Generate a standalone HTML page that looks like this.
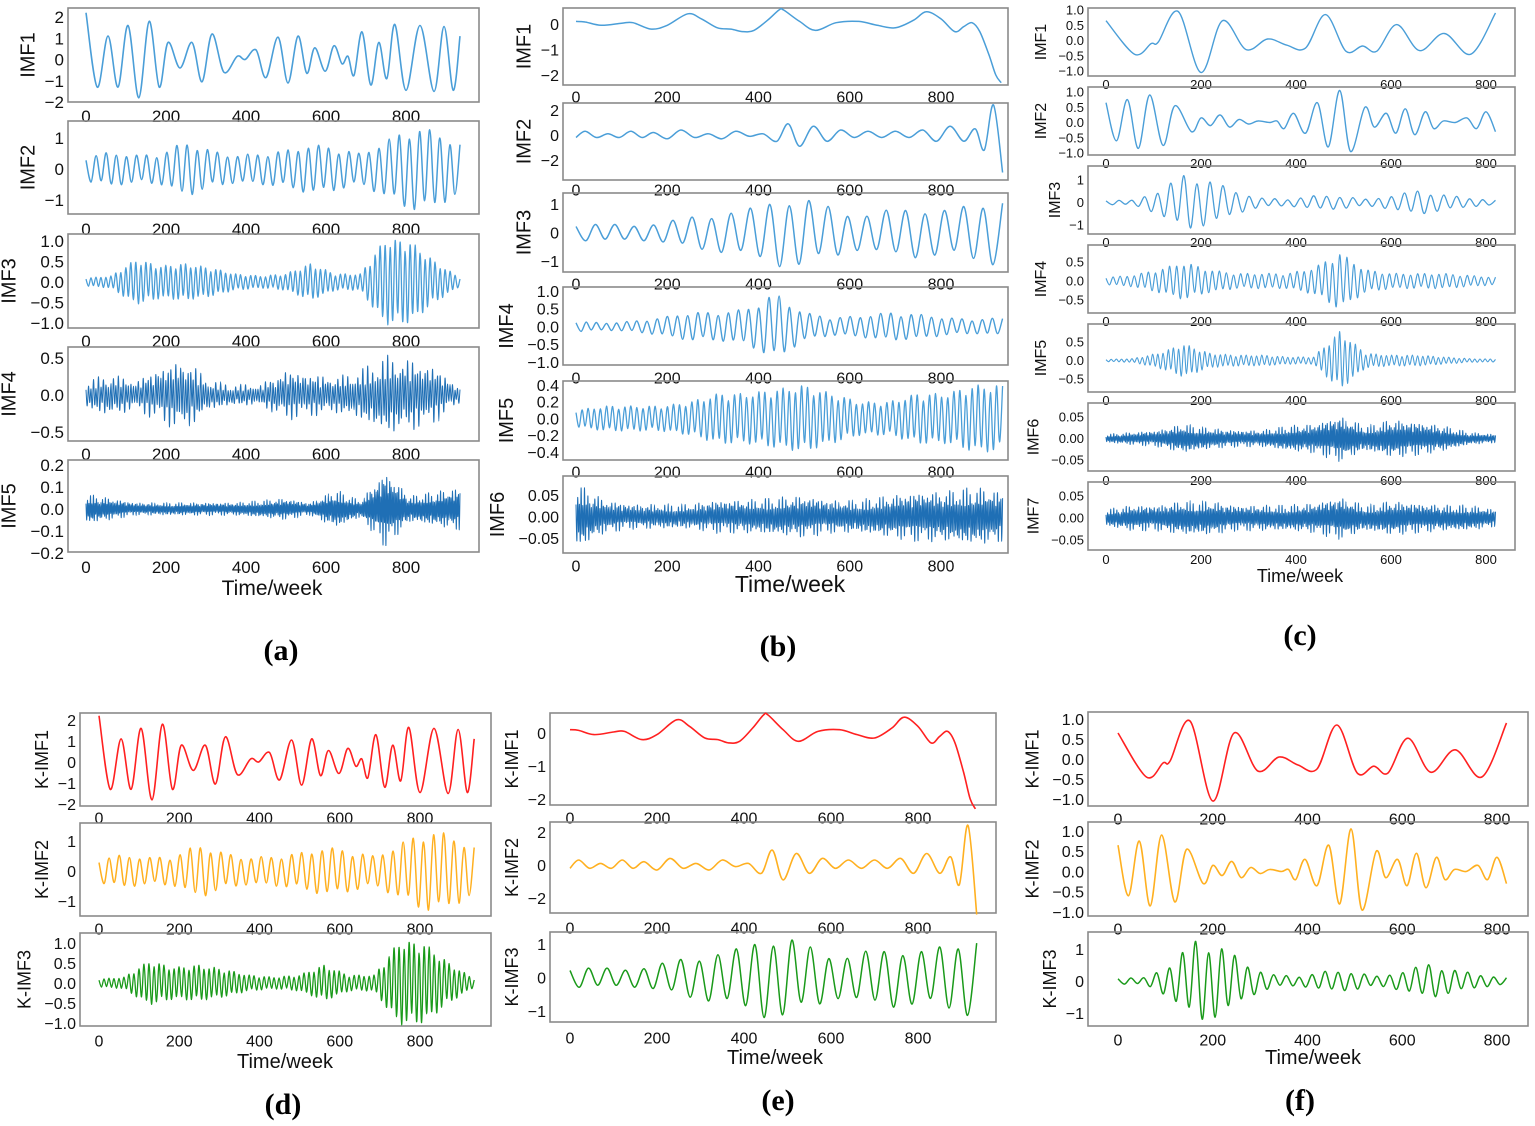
<!DOCTYPE html>
<html><head><meta charset="utf-8">
<style>
html,body{margin:0;padding:0;background:#fff;}
svg{display:block;font-family:"Liberation Sans",sans-serif;}
</style></head>
<body>
<svg id="fig" width="1535" height="1126" viewBox="0 0 1535 1126" xmlns="http://www.w3.org/2000/svg">
<rect width="1535" height="1126" fill="#fff"/>
<g font-family="Liberation Serif, serif" font-weight="bold" font-size="30" fill="#000" text-anchor="middle">
<text x="281" y="660">(a)</text>
<text x="778" y="656">(b)</text>
<text x="1300" y="645">(c)</text>
<text x="283" y="1114">(d)</text>
<text x="778" y="1110">(e)</text>
<text x="1300" y="1110">(f)</text>
</g>
</svg>
<script>
// ---------- data ----------
const xTicks = [0,200,400,600,800];
const aImf1T = [0,28,55,80,105,132,158,183,205,235,265,290,315,345,378,398,425,450,480,505,530,552,572,598,620,640,655,670,690,712,732,752,772,800,835,870,895,918,935];
const aImf1V = [2.2,-1.3,1.1,-1.3,1.6,-1.8,1.8,-1.3,0.8,-0.4,0.8,-1.05,1.2,-0.6,0.15,0.0,0.45,-0.85,1.05,-1.1,1.1,-0.65,0.55,-0.55,0.65,-0.2,0.15,-0.75,1.3,-1.2,0.8,-0.9,1.65,-1.45,1.6,-1.5,1.55,-1.45,1.1];
const bImf1T = [0,20,55,100,125,165,200,245,275,310,340,365,390,420,445,455,490,525,570,620,660,700,740,768,800,830,850,868,885,905,920,932];
const bImf1V = [0.1,0.08,-0.05,0.03,0.05,-0.2,-0.05,0.4,0.2,-0.15,-0.2,-0.3,-0.25,0.15,0.55,0.55,0.1,-0.25,0.05,0.1,-0.05,-0.15,0.15,0.48,0.2,-0.3,-0.1,0.05,-0.3,-1.2,-2.0,-2.3];
const bImf2T = [0,20,45,70,95,120,145,170,200,230,260,290,320,350,380,410,440,465,490,520,550,580,610,640,670,700,730,760,790,820,850,875,895,915,935];
const bImf2V = [-0.2,0.3,-0.2,0.1,-0.2,0.3,-0.2,0.2,-0.3,0.4,-0.2,0.1,-0.3,0.3,-0.1,0.1,-0.5,0.9,-0.9,0.7,-0.5,0.4,-0.2,0.3,-0.2,0.3,-0.2,0.4,-0.5,0.7,-0.5,0.5,-1.2,2.4,-3.0];
const cImf1T = [0,60,95,110,152,200,245,295,340,380,420,462,505,540,570,612,660,712,768,820];
const cImf1V = [0.65,-0.45,-0.1,-0.05,0.95,-1.05,0.65,-0.3,0.05,-0.15,-0.25,0.85,-0.35,-0.18,-0.35,0.52,-0.33,0.23,-0.45,0.9];
const cImf2T = [0,22,45,68,92,120,145,180,200,220,240,260,280,300,320,345,360,375,395,420,445,468,492,515,545,565,590,610,630,650,672,690,710,735,760,780,800,820];
const cImf2V = [0.65,-0.6,0.75,-0.85,0.9,-0.75,0.55,-0.3,0.15,-0.1,0.25,-0.15,0.1,-0.05,0.05,0.0,0.05,-0.2,0.3,-0.35,0.65,-0.8,1.05,-0.95,0.5,-0.15,0.3,-0.35,0.45,-0.4,0.35,-0.2,0.05,0.0,0.15,-0.2,0.35,-0.3];
const aImf2Env = [0.4,0.55,0.45,0.5,0.9,0.6,0.45,0.5,0.6,0.8,0.7,0.5,0.9,1.35,1.25,0.8];
const aImf3Env = [0.1,0.15,0.55,0.4,0.45,0.35,0.2,0.15,0.2,0.45,0.2,0.2,1.05,1.0,0.5,0.1];
const aImf4Env = [0.2,0.3,0.2,0.4,0.5,0.2,0.15,0.15,0.35,0.3,0.25,0.35,0.55,0.5,0.4,0.1];
const aImf5Env = [0.07,0.05,0.03,0.03,0.03,0.03,0.03,0.04,0.05,0.03,0.09,0.04,0.18,0.06,0.08,0.1];
const bImf3Env = [0.3,0.3,0.25,0.35,0.55,0.7,0.8,1.2,1.2,0.9,0.6,0.8,0.9,0.8,1.0,1.2];
const bImf4Env = [0.15,0.1,0.15,0.25,0.4,0.4,0.5,0.95,0.4,0.25,0.3,0.4,0.35,0.25,0.2,0.25];
const bImf5Env = [0.1,0.15,0.15,0.15,0.2,0.3,0.3,0.35,0.4,0.3,0.2,0.2,0.3,0.3,0.4,0.4];
const bImf6Env = [0.08,0.04,0.03,0.03,0.03,0.04,0.04,0.045,0.05,0.04,0.04,0.05,0.06,0.06,0.07,0.06];
const cImf3Env = [0.1,0.1,0.5,1.25,1.0,0.5,0.2,0.15,0.3,0.3,0.15,0.3,0.55,0.35,0.2,0.1];
const cImf4Env = [0.1,0.15,0.3,0.5,0.3,0.2,0.2,0.2,0.35,0.75,0.3,0.2,0.2,0.2,0.15,0.1];
const cImf5Env = [0.03,0.05,0.2,0.45,0.2,0.15,0.15,0.1,0.1,0.8,0.2,0.15,0.15,0.1,0.05,0.04];
const cImf6Env = [0.01,0.015,0.02,0.035,0.025,0.02,0.02,0.03,0.035,0.055,0.03,0.045,0.04,0.03,0.015,0.01];
const cImf7Env = [0.02,0.03,0.03,0.04,0.04,0.03,0.03,0.03,0.035,0.05,0.03,0.04,0.035,0.03,0.03,0.02];
const fImf3Env = [0.1,0.1,0.5,1.3,1.1,0.5,0.2,0.15,0.3,0.3,0.15,0.3,0.55,0.35,0.2,0.1];

// ---------- layout ----------
const BLUE='#4a9ed8', DBLUE='#1f6fb5', RED='#ff2020', ORG='#ffb020', GRN='#1a9a1a';
const A={boxL:68,boxR:479,x0:86,x800:406,N:935,fs:17,lfs:20};
const B={boxL:563,boxR:1008,x0:576,x800:941,N:935,fs:16,lfs:20};
const C={boxL:1088,boxR:1515,x0:1106,x800:1486,N:820,fs:13,lfs:16};
const D={boxL:80,boxR:491,x0:99,x800:420,N:935,fs:16,lfs:18};
const E={boxL:550,boxR:996,x0:570,x800:918,N:935,fs:16,lfs:18};
const F={boxL:1088,boxR:1528,x0:1118,x800:1497,N:820,fs:16,lfs:18};
const plots=[
 [A,'IMF1',8,102,115,[2,1,0,-1,-2],[17,102],{t:aImf1T,v:aImf1V},BLUE,1.6],
 [A,'IMF2',121,214,228,[1,0,-1],[138,200],{env:aImf2Env,n:74,tex:2},BLUE,1.5],
 [A,'IMF3',234,328,340,[1.0,0.5,0.0,-0.5,-1.0],[241,323],{env:aImf3Env,n:150,tex:2},BLUE,1.3],
 [A,'IMF4',347,441,453,[0.5,0.0,-0.5],[358,432],{env:aImf4Env,n:300,tex:1},DBLUE,1.0],
 [A,'IMF5',460,552,566,[0.2,0.1,0.0,-0.1,-0.2],[465,553],{env:aImf5Env,n:500,tex:1},DBLUE,1.0],
 [B,'IMF1',8,85,96,[0,-1,-2],[24,75],{t:bImf1T,v:bImf1V},BLUE,1.5],
 [B,'IMF2',103,180,189,[2,0,-2],[110,160],{t:bImf2T,v:bImf2V},BLUE,1.5],
 [B,'IMF3',193,272,283,[1,0,-1],[204,261],{env:bImf3Env,n:44,tex:2},BLUE,1.5],
 [B,'IMF4',287,365,377,[1.0,0.5,0.0,-0.5,-1.0],[291,362],{env:bImf4Env,n:84,tex:2},BLUE,1.4],
 [B,'IMF5',381,460,471,[0.4,0.2,0.0,-0.2,-0.4],[385,452],{env:bImf5Env,n:140,tex:2},BLUE,1.3],
 [B,'IMF6',476,553,565,[0.05,0.00,-0.05],[495,538],{env:bImf6Env,n:500,tex:1},DBLUE,1.0],
 [C,'IMF1',8,76,84,[1.0,0.5,0.0,-0.5,-1.0],[10,71],{t:cImf1T,v:cImf1V},BLUE,1.4],
 [C,'IMF2',87,155,163,[1.0,0.5,0.0,-0.5,-1.0],[92,153],{t:cImf2T,v:cImf2V},BLUE,1.4],
 [C,'IMF3',166,234,242,[1,0,-1],[180,225],{env:cImf3Env,n:60,tex:2},BLUE,1.3],
 [C,'IMF4',245,313,321,[0.5,0.0,-0.5],[262,300],{env:cImf4Env,n:110,tex:2},BLUE,1.2],
 [C,'IMF5',324,392,400,[0.5,0.0,-0.5],[342,379],{env:cImf5Env,n:150,tex:2},BLUE,1.1],
 [C,'IMF6',403,471,480,[0.05,0.00,-0.05],[417,460],{env:cImf6Env,n:500,tex:1},DBLUE,1.0],
 [C,'IMF7',482,550,559,[0.05,0.00,-0.05],[496,540],{env:cImf7Env,n:500,tex:1},DBLUE,1.0],
 [D,'K-IMF1',713,806,817,[2,1,0,-1,-2],[720,804],{t:aImf1T,v:aImf1V},RED,1.6],
 [D,'K-IMF2',823,916,928,[1,0,-1],[841,901],{env:aImf2Env,n:74,tex:2},ORG,1.5],
 [D,'K-IMF3',933,1026,1040,[1.0,0.5,0.0,-0.5,-1.0],[943,1023],{env:aImf3Env,n:150,tex:2},GRN,1.3],
 [E,'K-IMF1',713,805,817,[0,-1,-2],[733,799],{t:bImf1T,v:bImf1V},RED,1.6],
 [E,'K-IMF2',822,913,927,[2,0,-2],[832,898],{t:bImf2T,v:bImf2V},ORG,1.6],
 [E,'K-IMF3',932,1022,1037,[1,0,-1],[944,1011],{env:bImf3Env,n:44,tex:2},GRN,1.5],
 [F,'K-IMF1',712,806,818,[1.0,0.5,0.0,-0.5,-1.0],[719,799],{t:cImf1T,v:cImf1V},RED,1.6],
 [F,'K-IMF2',822,916,928,[1.0,0.5,0.0,-0.5,-1.0],[831,912],{t:cImf2T,v:cImf2V},ORG,1.6],
 [F,'K-IMF3',932,1026,1039,[1,0,-1],[949,1013],{env:fImf3Env,n:60,tex:2},GRN,1.5]
];
const xlabels=[[A,272,595,21],[B,790,592,23],[C,1300,582,18],[D,285,1068,20],[E,775,1064,20],[F,1313,1064,20]];

const NS='http://www.w3.org/2000/svg', svg=document.getElementById('fig');
function mk(tag,attrs,parent){const e=document.createElementNS(NS,tag);for(const k in attrs)e.setAttribute(k,attrs[k]);(parent||svg).appendChild(e);return e;}
function envAt(env,t,N){const f=t/N*(env.length-1);const i=Math.min(env.length-2,Math.floor(f));const r=f-i;return env[i]*(1-r)+env[i+1]*r;}
function series(d,N){
  if(d.t) return {t:d.t,v:d.v};
  const t=[],v=[];
  for(let k=0;k<=d.n;k++){const tt=N*k/d.n;let a=envAt(d.env,tt,N)*(k%2?-1:1);
    if(d.tex===1) a*=0.35+0.65*Math.abs(Math.sin(k*2.37)*Math.cos(k*0.61));
    else if(d.tex===2) a*=0.7+0.3*Math.abs(Math.sin(k*1.13));
    t.push(tt);v.push(a);}
  return {t,v};
}
function pathFrom(pts){
  let s='M'+pts[0][0].toFixed(1)+','+pts[0][1].toFixed(1);
  for(let i=0;i<pts.length-1;i++){
    const p0=pts[Math.max(0,i-1)],p1=pts[i],p2=pts[i+1],p3=pts[Math.min(pts.length-1,i+2)];
    const c1=[p1[0]+(p2[0]-p0[0])/6,p1[1]+(p2[1]-p0[1])/6],c2=[p2[0]-(p3[0]-p1[0])/6,p2[1]-(p3[1]-p1[1])/6];
    s+='C'+c1[0].toFixed(1)+','+c1[1].toFixed(1)+' '+c2[0].toFixed(1)+','+c2[1].toFixed(1)+' '+p2[0].toFixed(1)+','+p2[1].toFixed(1);
  }
  return s;
}
plots.forEach((p,idx)=>{
  const [L,name,top,bot,tickY,yt,ytPix,data,col,sw]=p;
  const g=mk('g',{});
  
  
  const xs=t=>L.x0+(L.x800-L.x0)*t/800;
  const y0v=yt[0],y1v=yt[yt.length-1];
  const ys=v=>ytPix[0]+(ytPix[1]-ytPix[0])*(v-y0v)/(y1v-y0v);
  const box=mk('rect',{x:L.boxL,y:top,width:L.boxR-L.boxL,height:bot-top,fill:'none',stroke:'#8a8a8a','stroke-width':1.6},g);
  
  
  xTicks.forEach(t=>{
    const tx=mk('text',{x:xs(t),y:tickY+L.fs*0.4,'font-size':L.fs,'text-anchor':'middle',fill:'#111'},g);
    tx.textContent=t;
    
    
  });
  const dec=yt.some(q=>Math.abs(q)<0.1&&q!==0)?2:(yt.some(q=>q%1!==0)?1:0);
  yt.forEach(v=>{
    const tx=mk('text',{x:L.boxL-4,y:ys(v)+L.fs*0.36,'font-size':L.fs,'text-anchor':'end',fill:'#111'},g);
    tx.textContent=v.toFixed(dec).replace('-','\u2212');
    
    
  });
  const maxW=Math.max(...yt.map(v=>v.toFixed(dec).length));
  const lx=L.boxL-8-maxW*L.fs*0.55-L.lfs*0.35, ly=(top+bot)/2;
  const yl=mk('text',{x:lx,y:ly,'font-size':L.lfs,'text-anchor':'middle',fill:'#111',transform:'rotate(-90 '+lx+' '+ly+')'},g);
  yl.textContent=name;
  
  
  const s=series(data,L.N);
  const pts=s.t.map((t,i)=>[xs(t),ys(s.v[i])]);
  const ln=mk('path',{d:pathFrom(pts),fill:'none',stroke:col,'stroke-width':sw,'stroke-linejoin':'round'},g);
  
  
});
xlabels.forEach(x=>{
  const t=mk('text',{x:x[1],y:x[2],'font-size':x[3],'text-anchor':'middle',fill:'#111'});
  t.textContent='Time/week';
  
  
});
</script>
</body></html>
